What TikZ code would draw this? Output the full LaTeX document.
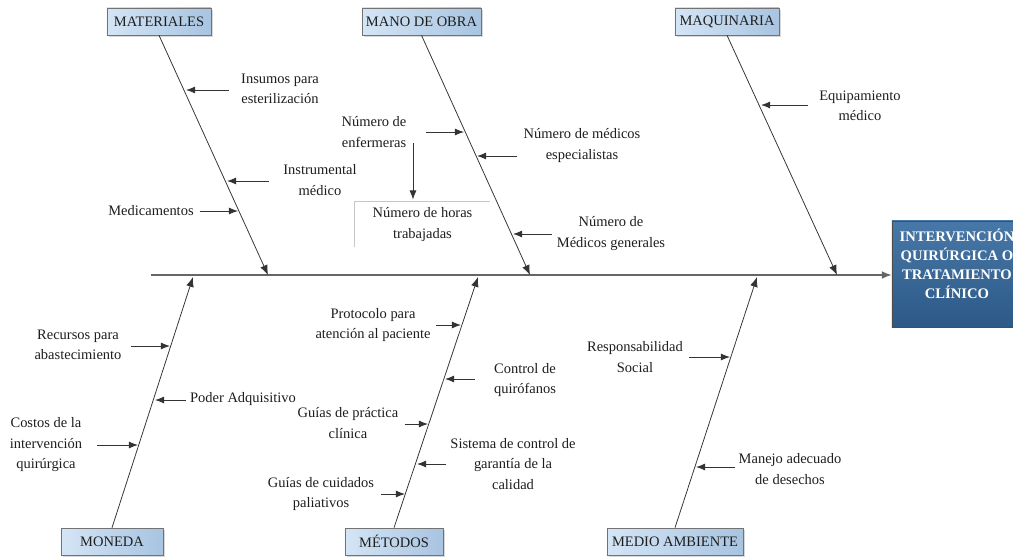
\documentclass[tikz,border=0pt]{standalone}
\usepackage{fontspec}
\setmainfont{Liberation Serif}
\usetikzlibrary{arrows.meta,shadows}

\definecolor{catL}{HTML}{D4E5F5}
\definecolor{catR}{HTML}{A8C4E1}
\definecolor{effT}{HTML}{4878A8}
\definecolor{effB}{HTML}{2C5986}
\definecolor{ink}{HTML}{1E1E1E}
\definecolor{bonec}{HTML}{333333}

\tikzset{
  txt/.style={font=\fontsize{10.3}{14.6}\selectfont, text=ink},
  cat/.style={txt, draw=black!55, left color=catL, right color=catR,
    inner sep=0pt, minimum height=0.675cm,
    drop shadow={shadow xshift=1.2pt, shadow yshift=-1.2pt, opacity=0.3}},
  cause/.style={txt, align=center, inner sep=0pt},
  effbox/.style={draw=black!70, top color=effT, bottom color=effB,
    minimum width=3.25cm, minimum height=2.65cm, inner sep=0pt},
  efftxt/.style={font=\bfseries\fontsize{10.4}{13.6}\selectfont, text=white, align=center},
  spine/.style={draw=black!60, line width=1pt, -{Latex[length=7pt,width=5.5pt]}},
  bone/.style={draw=bonec, line width=0.55pt, -{Latex[length=7pt,width=5.5pt]}},
  sub/.style={draw=bonec, line width=0.65pt, -{Latex[length=6.5pt,width=5pt]}}
}

\begin{document}
\begin{tikzpicture}[x=0.025cm, y=-0.025cm]
\useasboundingbox[fill=white] (0,0) rectangle (1013,558);

% categories
\node[cat, minimum width=2.6cm] (mat) at (159,21.5) {MATERIALES};
\node[cat, minimum width=2.975cm] (mob) at (421.5,21.5) {MANO DE OBRA};
\node[cat, minimum width=2.6cm] (maq) at (727,21.5) {MAQUINARIA};
\node[cat, minimum width=2.55cm] (mon) at (112,541.5) {MONEDA};
\node[cat, minimum width=2.45cm] (met) at (394,541.5) {MÉTODOS};
\node[cat, minimum width=3.4cm] (amb) at (675,541.5) {MEDIO AMBIENTE};

% effect
\node[effbox] (eff) at (957,274) {};
\node[efftxt] (efft) at (957,264) {INTERVENCIÓN\\QUIRÚRGICA O\\TRATAMIENTO\\CLÍNICO};

% spine and bones
\coordinate (sp) at (151,275);
\draw[spine] (sp) -- (eff.west |- sp);

\coordinate (mat-e) at (268,275);
\coordinate (mob-e) at (530,275);
\coordinate (maq-e) at (837,275);
\coordinate (mon-e) at (193,277);
\coordinate (met-e) at (478,277);
\coordinate (amb-e) at (757,277);
\draw[bone] (mat.south) -- (mat-e);
\draw[bone] (mob.south) -- (mob-e);
\draw[bone] (maq.south) -- (maq-e);
\draw[bone] (mon.north) -- (mon-e);
\draw[bone] (met.north) -- (met-e);
\draw[bone] (amb.north) -- (amb-e);

% materiales
\node[cause] (ins) at (280,89) {Insumos para\\esterilización};
\node[cause] (ist) at (320,180) {Instrumental\\médico};
\node[cause] (mdc) at (151,211) {Medicamentos};
\coordinate (ins-e) at (186,90);
\coordinate (ist-e) at (227,181);
\coordinate (mdc-e) at (238,211);
\draw[sub, shorten <=8.5pt] (ins.west |- ins-e) -- (ins-e);
\draw[sub, shorten <=10pt] (ist.west |- ist-e) -- (ist-e);
\draw[sub, shorten <=4.3pt] (mdc.east |- mdc-e) -- (mdc-e);

% mano de obra
\node[cause] (enf) at (374,132) {Número de\\enfermeras};
\node[cause] (hrs) at (422.5,224.5) [minimum width=3.375cm, minimum height=1.125cm] {Número de horas\\trabajadas};
\draw[black!22] (hrs.south west) -- (hrs.north west) -- (hrs.north east);
\node[cause] (esp) at (582,145.5) {Número de médicos\\especialistas};
\node[cause] (gen) at (611,233.5) {Número de\\Médicos generales};
\coordinate (enf-e) at (464,132);
\coordinate (enf-d) at (413,143);
\coordinate (esp-e) at (477,156);
\coordinate (gen-e) at (513,234);
\draw[sub, shorten <=14pt] (enf.east |- enf-e) -- (enf-e);
\draw[sub, shorten >=1.5pt] (enf-d) -- (enf-d |- hrs.north);
\draw[sub, shorten <=4.3pt] (esp.west |- esp-e) -- (esp-e);
\draw[sub, shorten <=3.5pt] (gen.west |- gen-e) -- (gen-e);

% maquinaria
\node[cause] (eqp) at (860,106) {Equipamiento\\médico};
\coordinate (eqp-e) at (761,105);
\draw[sub, shorten <=8pt] (eqp.west |- eqp-e) -- (eqp-e);

% moneda
\node[cause] (rec) at (78,345) {Recursos para\\abastecimiento};
\node[cause] (pod) at (243,399) {Poder Adquisitivo};
\node[cause] (cos) at (46,445) {Costos de la\\intervención\\quirúrgica};
\coordinate (rec-e) at (170,346);
\coordinate (pod-e) at (155,400);
\coordinate (cos-e) at (138,445);
\draw[sub, shorten <=6.4pt] (rec.east |- rec-e) -- (rec-e);
\draw[sub, shorten <=2.8pt] (pod.west |- pod-e) -- (pod-e);
\draw[sub, shorten <=10.6pt] (cos.east |- cos-e) -- (cos-e);

% metodos
\node[cause] (pro) at (373,325) {Protocolo para\\atención al paciente};
\node[cause] (ctl) at (525,380) {Control de\\quirófanos};
\node[cause] (gpc) at (348,423) {Guías de práctica\\clínica};
\node[cause] (sis) at (513,464) {Sistema de control de\\garantía de la\\calidad};
\node[cause] (gcp) at (321,494) {Guías de cuidados\\paliativos};
\coordinate (pro-e) at (461,325);
\coordinate (ctl-e) at (445,379);
\coordinate (gpc-e) at (428,424);
\coordinate (sis-e) at (417,464);
\coordinate (gcp-e) at (405,494);
\draw[sub, shorten <=3.5pt] (pro.east |- pro-e) -- (pro-e);
\draw[sub, shorten <=13.5pt] (ctl.west |- ctl-e) -- (ctl-e);
\draw[sub, shorten <=4.3pt] (gpc.east |- gpc-e) -- (gpc-e);
\draw[sub, shorten <=2.8pt] (sis.west |- sis-e) -- (sis-e);
\draw[sub, shorten <=5pt] (gcp.east |- gcp-e) -- (gcp-e);

% medio ambiente
\node[cause] (res) at (635,357) {Responsabilidad\\Social};
\node[cause] (man) at (790,469) {Manejo adecuado\\de desechos};
\coordinate (res-e) at (730,357);
\coordinate (man-e) at (696,467);
\draw[sub, shorten <=4.3pt] (res.east |- res-e) -- (res-e);
\draw[sub, shorten <=2.8pt] (man.west |- man-e) -- (man-e);
\end{tikzpicture}
\end{document}
